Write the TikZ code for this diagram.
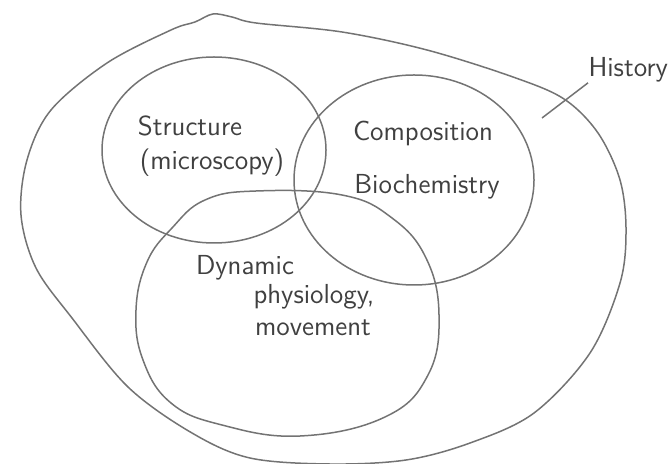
\documentclass[tikz,border=0pt]{standalone}
\usepackage{tikz}
\tikzset{
  ring/.style={draw=black!55, line width=0.6pt},
  lbl/.style ={font=\sffamily\fontsize{11}{13}\selectfont, text=black!75, inner sep=0pt},
  lead/.style={draw=black!55, line width=0.6pt},
}
\begin{document}
\begin{tikzpicture}[x=0.4pt,y=-0.4pt]
\useasboundingbox (0,0) rectangle (670,464);
% outer region
\draw[ring] plot[smooth cycle, tension=0.55] coordinates {
  (213,14) (232,17) (256,23) (342,32) (427,50) (513,77) (564,99) (598,133)
  (620,180) (626,230) (620,283) (590,353) (534,413) (470,443) (406,460)
  (330,464) (250,458) (192,433) (128,387) (72,318) (36,268) (21,215)
  (27,160) (51,110) (107,63) (171,30) (195,22)};
% the three sets
\draw[ring] (214,150) ellipse [x radius=112, y radius=93];
\draw[ring] (414,180) ellipse [x radius=120, y radius=105];
\draw[ring] plot[smooth cycle, tension=0.7] coordinates {
  (256,191) (342,195) (392,218) (426,258) (439,315) (428,375)
  (385,417) (300,436) (222,425) (171,403) (143,360) (136,310) (147,262)
  (172,228) (205,200)};
% labels
\node[lbl] (struct) at (190,126) {Structure};
\node[lbl] (micro)  at (212,163) {(microscopy)};
\node[lbl] (comp)   at (423,133) {Composition};
\node[lbl] (bioch)  at (427,187) {Biochemistry};
\node[lbl] (dyn)    at (245,268) {Dynamic};
\node[lbl] (phys)   at (314,297) {physiology,};
\node[lbl] (move)   at (313,328) {movement};
\node[lbl, anchor=west] (hist) at (588,70) {History};
\coordinate (histick) at (542,118);
\draw[lead] (histick) -- (hist.south west);
\end{tikzpicture}
\end{document}
